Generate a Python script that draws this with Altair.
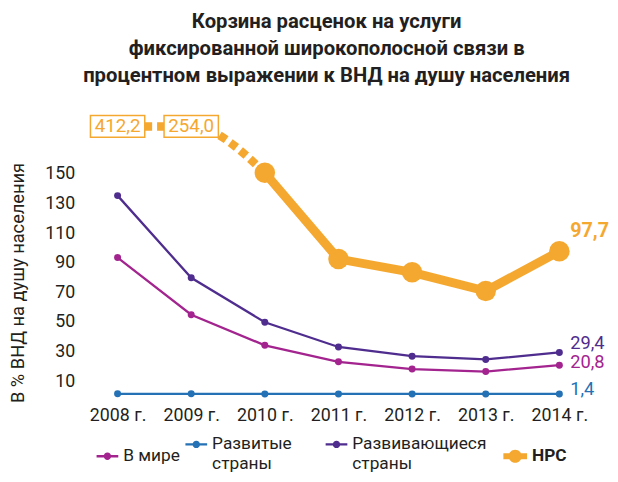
import altair as alt
import pandas as pd

# ---------------- data ----------------
years = ["2008 г.", "2009 г.", "2010 г.", "2011 г.", "2012 г.", "2013 г.", "2014 г."]
world = [93.5, 54.9, 34.2, 23.1, 18.2, 16.5, 20.8]
developed = [1.5, 1.5, 1.4, 1.4, 1.4, 1.4, 1.4]
developing = [135.3, 79.8, 49.8, 33.1, 26.9, 24.7, 29.4]
ldc = [412.2, 254.0, 150.7, 92.5, 83.5, 70.9, 97.7]

series_names = ["В мире", "Развитые\nстраны", "Развивающиеся\nстраны", "НРС"]
series_values = [world, developed, developing, ldc]
colors = ["#A3248F", "#2471B5", "#4F2D8F", "#F5A830"]

y_ticks = [10, 30, 50, 70, 90, 110, 130, 150]
title_lines = ["Корзина расценок на услуги",
               "фиксированной широкополосной связи в",
               "процентном выражении к ВНД на душу населения"]
y_title = "В % ВНД на душу населения"

# ---------------- styling ----------------
FONT = "Roboto"
TXT = "#231F20"
CAP = 182          # level at which off-scale values are drawn
Y_MAX = 190

rows = []
for name, vals in zip(series_names, series_values):
    for i, (yr, v) in enumerate(zip(years, vals)):
        rows.append(dict(year=yr, idx=i, series=name, value=v,
                         shown=min(v, CAP),
                         label=f"{v:.1f}".replace(".", ",")))
df = pd.DataFrame(rows)

X = alt.X("year:O", sort=years, scale=alt.Scale(type="point", padding=0.5),
          axis=alt.Axis(title=None, labelAngle=0, ticks=False, domain=False,
                        grid=False, labelFont=FONT, labelFontSize=18,
                        labelColor=TXT, labelPadding=11))
Y = alt.Y("shown:Q", scale=alt.Scale(domain=[0, Y_MAX], nice=False, zero=True),
          axis=alt.Axis(values=y_ticks, title=y_title, ticks=False, domain=False,
                        grid=False, labelFont=FONT, labelFontSize=18,
                        labelColor=TXT, labelPadding=6,
                        titleFont=FONT, titleFontSize=18.5, titleFontWeight="normal",
                        titleColor=TXT, titleAngle=270, titleAlign="center",
                        titleBaseline="middle", titleX=-64, titleY=170))

THIN_SYM = ("M-1,-0.11H1V0.11H-1Z "
            "M0.34,0A0.34,0.34 0 1,1 -0.34,0A0.34,0.34 0 1,1 0.34,0Z")
THICK_SYM = ("M-1,-0.25H1V0.25H-1Z "
             "M0.55,0A0.55,0.55 0 1,1 -0.55,0A0.55,0.55 0 1,1 0.55,0Z")

legend_x = [16, 106, 248, 428]
legend_y = [335, 323, 323, 334]
label_dy = [-3, -5, -10, -20]


def legend_for(k, bold=False, thick=False):
    return alt.Legend(orient="none", legendX=legend_x[k], legendY=legend_y[k],
                      title=None, padding=0, symbolType=THICK_SYM if thick else THIN_SYM,
                      symbolSize=576 if thick else 484, symbolStrokeWidth=0,
                      symbolOpacity=1, labelFont=FONT, labelFontSize=17.5,
                      labelColor=TXT, labelOffset=5,
                      labelFontWeight="bold" if bold else "normal",
                      labelExpr="split(datum.label, '\\n')", labelLimit=300)


layers = []
# thin series
for k in range(3):
    name, col = series_names[k], colors[k]
    d = df[df.series == name]
    base = alt.Chart(d).encode(x=X, y=Y)
    layers.append(base.mark_line(color=col, strokeWidth=2.3))
    layers.append(base.mark_point(filled=True, size=50, opacity=1).encode(
        color=alt.Color("series:N", scale=alt.Scale(domain=[name], range=[col]),
                        legend=legend_for(k))))
    layers.append(alt.Chart(d[d.idx == len(years) - 1]).mark_text(
        align="left", baseline="middle", dx=11, dy=label_dy[k], font=FONT,
        fontSize=18.5, color=col).encode(x=X, y=Y, text="label:N"))

# НРС series
name, col = series_names[3], colors[3]
d = df[df.series == name]
on_scale = d[d.value <= CAP]
first_on = on_scale.idx.min()
dash_part = d[d.idx <= first_on]
off_part = d[d.value > CAP]

layers.append(alt.Chart(dash_part).mark_line(
    color=col, strokeWidth=8.5, strokeDash=[8, 5], strokeDashOffset=12,
    strokeCap="butt", interpolate="monotone").encode(x=X, y=Y))
layers.append(alt.Chart(on_scale).mark_line(color=col, strokeWidth=9).encode(x=X, y=Y))
layers.append(alt.Chart(on_scale).mark_point(filled=True, size=430, opacity=1).encode(
    x=X, y=Y,
    color=alt.Color("series:N", scale=alt.Scale(domain=[name], range=[col]),
                    legend=legend_for(3, bold=True, thick=True))))
layers.append(alt.Chart(off_part).mark_point(
    shape="M-2.5,-1H2.5V1H-2.5Z", size=484, fill="white", stroke=col,
    strokeWidth=1.5, fillOpacity=1, strokeOpacity=1).encode(x=X, y=Y))
layers.append(alt.Chart(off_part).mark_text(
    align="center", baseline="middle", font=FONT, fontSize=19, color=col).encode(
    x=X, y=Y, text="label:N"))
layers.append(alt.Chart(d[d.idx == len(years) - 1]).mark_text(
    align="left", baseline="middle", dx=11, dy=label_dy[3], font=FONT,
    fontSize=20, fontWeight="bold", color=col).encode(x=X, y=Y, text="label:N"))

chart = alt.layer(*layers).resolve_scale(color="independent").properties(
    width=522, height=285,
    autosize=alt.AutoSizeParams(type="none"),
    padding={"left": 73.7, "top": 105, "right": 14, "bottom": 75},
    title=alt.TitleParams(text=title_lines, font=FONT, fontSize=20.5, fontWeight="bold",
                          color=TXT, anchor="middle", dx=-12, lineHeight=27,
                          offset=24),
).configure_view(stroke=None)

chart.save("out.html", embed_options={"renderer": "svg", "actions": False})
